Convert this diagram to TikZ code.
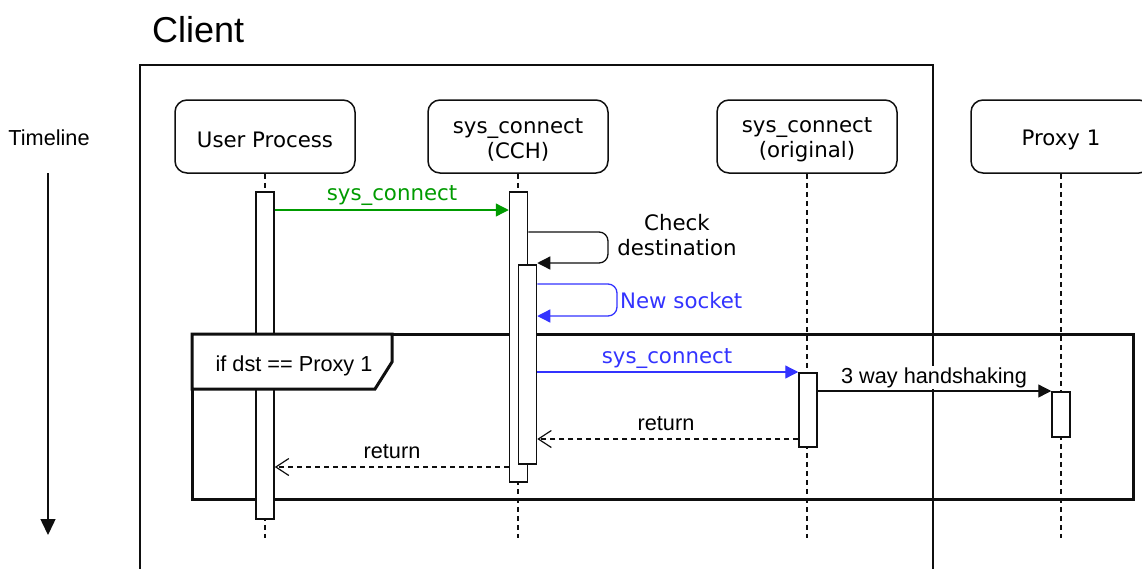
\documentclass[tikz,border=0pt]{standalone}
\usepackage{fontspec}
\setmainfont{Liberation Sans}
\newfontfamily\vfont{DejaVu Sans}
\usetikzlibrary{arrows.meta}
\definecolor{msggreen}{RGB}{0,155,0}
\definecolor{msgblue}{RGB}{51,51,255}
\definecolor{ink}{RGB}{15,15,15}

\begin{document}
\begin{tikzpicture}[x=1pt,y=-1pt,
  actor/.style={draw=ink, line width=1.5pt, rounded corners=12pt, fill=white,
    minimum width=180pt, minimum height=73pt, inner sep=0pt},
  actortext/.style={align=center, inner sep=0pt, yshift=-3pt,
    font=\vfont\fontsize{21.3}{25}\selectfont},
  life/.style={draw=ink, line width=1.3pt, dash pattern=on 5pt off 4pt},
  bar/.style={draw=ink, line width=1.5pt, fill=white, minimum width=18pt,
    inner sep=0pt, anchor=north},
  call/.style={line width=1.3pt, -{Triangle[length=13pt,width=13pt]}},
  ret/.style={line width=1.2pt, dash pattern=on 5pt off 4pt,
    -{Straight Barb[length=13pt,width=17pt]}},
  lbl/.style={font=\fontsize{21.7}{25}\selectfont, anchor=base, inner sep=1pt},
  vlbl/.style={font=\vfont\fontsize{21.3}{25}\selectfont, anchor=base, inner sep=1pt},
]
\useasboundingbox (0,0) rectangle (1142,568);
\clip (0,0) rectangle (1142,568);

% title and client boundary
\node[font=\fontsize{36}{40}\selectfont, anchor=base west, inner sep=0pt] (client) at (152,42) {Client};
\draw[ink, line width=1.5pt] (140,580) -- (140,65) -- (933,65) -- (933,580);

% time axis
\node[lbl] (tl) at (49,145) {Timeline};
\coordinate (tlstart) at (48,173);
\coordinate (tlend) at (48,535);
\draw[ink, line width=1.5pt, -{Triangle[length=16pt,width=15pt]}] (tlstart) -- (tlend);

% participants
\node[actor] (up)  at (265,136.5) {};
\node[actor] (cch) at (518,136.5) {};
\node[actor] (org) at (807,136.5) {};
\node[actor] (px)  at (1061,136.5) {};
\node[actortext] (upt)  at (up)  {User Process};
\node[actortext] (ccht) at (cch) {sys\_connect\\(CCH)};
\node[actortext] (orgt) at (org) {sys\_connect\\(original)};
\node[actortext] (pxt)  at (px)  {Proxy 1};

% lifelines
\coordinate (upend)  at (265,538);
\coordinate (cchend) at (518,538);
\coordinate (orgend) at (807,538);
\coordinate (pxend)  at (1061,538);
\draw[life] (up.south) -- (upend);
\draw[life] (cch.south) -- (cchend);
\draw[life] (org.south) -- (orgend);
\draw[life] (px.south) -- (pxend);

% alt fragment
\draw[ink, line width=3pt] (192,334) rectangle (1133,499);

% activation bars
\node[bar, minimum height=327pt] (ub)  at (265,191) {};
\node[bar, minimum height=290pt] (cob) at (518.5,191) {};
\node[bar, minimum height=199pt] (cib) at (527.5,264) {};
\node[bar, minimum height=74pt]  (ob)  at (808,372) {};
\node[bar, minimum height=45pt]  (pb)  at (1061,391) {};

% fragment label
\draw[ink, line width=3pt, fill=white] (192,334) -- (392,334) -- (392,362) -- (375,389) -- (192,389) -- cycle;
\node[lbl] (cond) at (294,371) {if dst == Proxy 1};

% messages
\draw[call, msggreen] (ub.east |- 0,210) -- (cob.west |- 0,210);
\node[vlbl, text=msggreen] (m1) at (392,200) {sys\_connect};

\draw[call, ink, rounded corners=9pt] (cob.east |- 0,232) -- (608,232) -- (608,263) -- (cib.east |- 0,263);
\node[vlbl] (chk1) at (677,230) {Check};
\node[vlbl] (chk2) at (677,255) {destination};

\draw[call, msgblue, rounded corners=9pt] (cib.east |- 0,284) -- (617,284) -- (617,316) -- (cib.east |- 0,316);
\node[vlbl, text=msgblue, anchor=base west] (ns) at (619,308) {New socket};

\draw[call, msgblue] (cib.east |- 0,372) -- (ob.west |- 0,372);
\node[vlbl, text=msgblue] (m2) at (667,363) {sys\_connect};

\draw[call, ink] (ob.east |- 0,391) -- (pb.west |- 0,391);
\node[lbl, fill=white] (hs) at (934,383) {3 way handshaking};

\draw[ret, ink] (ob.west |- 0,439) -- (cib.east |- 0,439);
\node[lbl] (r1) at (666,430) {return};

\draw[ret, ink] (cob.west |- 0,467) -- (ub.east |- 0,467);
\node[lbl] (r2) at (392,458) {return};
\end{tikzpicture}
\end{document}
